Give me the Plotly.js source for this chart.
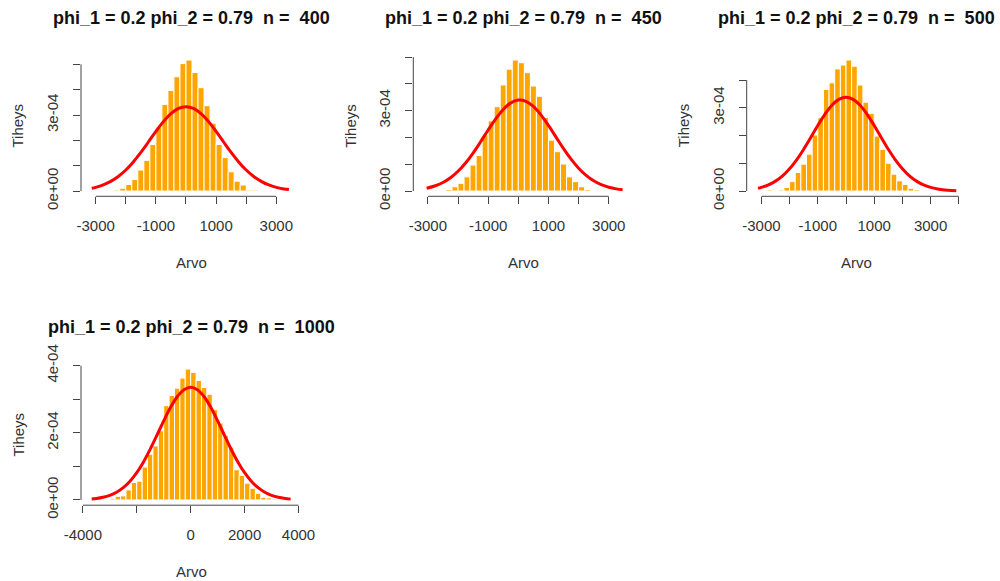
<!DOCTYPE html>
<html>
<head>
<meta charset="utf-8">
<script src="https://cdn.plot.ly/plotly-3.0.1.min.js"></script>
<style>
html,body{margin:0;padding:0;background:#fff;}
#chart{width:1000px;height:581px;}
</style>
</head>
<body>
<div id="chart"></div>
<script>
// ---------- data (densities in units of 1e-4) ----------
const DENS_UNIT = 1e-4;
const BIN_WIDTH = 200;

const titles = [
  "phi_1 = 0.2 phi_2 = 0.79  n =  400",
  "phi_1 = 0.2 phi_2 = 0.79  n =  450",
  "phi_1 = 0.2 phi_2 = 0.79  n =  500",
  "phi_1 = 0.2 phi_2 = 0.79  n =  1000"
];
const xAxisTitle = "Arvo";
const yAxisTitle = "Tiheys";

// panel 1 (n = 400)
const p1Bins = [-2400,-2200,-2000,-1800,-1600,-1400,-1200,-1000,-800,-600,-400,-200,0,200,400,600,800,1000,1200,1400,1600,1800,2000,2200];
const p1Dens = [0.04,0.11,0.26,0.46,0.83,1.21,1.84,2.53,3.42,3.97,4.51,5.03,5.17,4.68,4.08,3.37,2.68,1.84,1.32,0.76,0.39,0.24,0.04,0.04];
const p1CurveX = [-3130,-3000,-2750,-2500,-2250,-2000,-1750,-1500,-1250,-1000,-750,-500,-250,0,250,500,750,1000,1250,1500,1750,2000,2250,2500,2750,3000,3250,3420];
const p1CurveY = [0.111,0.146,0.241,0.380,0.574,0.830,1.150,1.525,1.936,2.354,2.739,3.054,3.258,3.33,3.258,3.054,2.739,2.354,1.936,1.525,1.150,0.830,0.574,0.380,0.241,0.146,0.085,0.057];

// panel 2 (n = 450)
const p2Bins = [-2400,-2200,-2000,-1800,-1600,-1400,-1200,-1000,-800,-600,-400,-200,0,200,400,600,800,1000,1200,1400,1600,1800,2000,2200];
const p2Dens = [0.06,0.16,0.29,0.53,0.97,1.33,2.09,2.62,3.15,3.96,4.55,4.89,4.79,4.42,3.92,3.54,2.75,1.90,1.47,1.01,0.53,0.35,0.16,0.06];
const p2CurveX = [-3040,-2750,-2500,-2250,-2000,-1750,-1500,-1250,-1000,-750,-500,-250,0,250,500,750,1000,1250,1500,1750,2000,2250,2500,2750,3000,3250,3460];
const p2CurveY = [0.106,0.197,0.320,0.497,0.738,1.047,1.420,1.840,2.278,2.694,3.046,3.290,3.397,3.351,3.159,2.845,2.449,2.015,1.583,1.190,0.854,0.586,0.383,0.240,0.144,0.082,0.050];

// panel 3 (n = 500)
const p3Bins = [-2800,-2600,-2400,-2200,-2000,-1800,-1600,-1400,-1200,-1000,-800,-600,-400,-200,0,200,400,600,800,1000,1200,1400,1600,1800,2000,2200,2400];
const p3Dens = [0.04,0,0.04,0.13,0.34,0.67,0.97,1.33,2.02,2.64,3.66,3.90,4.40,4.54,4.72,4.50,3.82,3.20,2.80,1.98,1.50,1.00,0.61,0.37,0.24,0.10,0.05];
const p3CurveX = [-3120,-3000,-2750,-2500,-2250,-2000,-1750,-1500,-1250,-1000,-750,-500,-250,0,250,500,750,1000,1250,1500,1750,2000,2250,2500,2750,3000,3250,3500,3750,3912];
const p3CurveY = [0.102,0.134,0.223,0.358,0.549,0.804,1.125,1.507,1.929,2.360,2.762,3.090,3.305,3.38,3.305,3.090,2.762,2.360,1.929,1.507,1.125,0.804,0.549,0.358,0.223,0.134,0.076,0.042,0.022,0.014];

// panel 4 (n = 1000)
const p4Bins = [-3000,-2800,-2600,-2400,-2200,-2000,-1800,-1600,-1400,-1200,-1000,-800,-600,-400,-200,0,200,400,600,800,1000,1200,1400,1600,1800,2000,2200,2400,2600,2800,3000];
const p4Dens = [0.04,0.11,0.12,0.30,0.52,0.56,0.98,1.36,1.61,2.06,2.81,3.11,3.33,3.63,3.90,3.80,3.56,3.35,3.15,2.69,2.29,1.92,1.57,0.90,0.73,0.50,0.35,0.20,0.08,0.06,0.03];
const p4CurveX = [-3672,-3500,-3250,-3000,-2750,-2500,-2250,-2000,-1750,-1500,-1250,-1000,-750,-500,-250,0,250,500,750,1000,1250,1500,1750,2000,2250,2500,2750,3000,3250,3500,3709];
const p4CurveY = [0.028,0.043,0.079,0.138,0.229,0.366,0.557,0.812,1.133,1.512,1.930,2.356,2.752,3.075,3.286,3.36,3.286,3.075,2.752,2.356,1.930,1.512,1.133,0.812,0.557,0.366,0.229,0.138,0.079,0.043,0.025];

// tick values / labels
const xTicksA = [-3000,-2000,-1000,0,1000,2000,3000];
const xLabelsA = ["-3000","","-1000","","1000","","3000"];
const xTicks3 = [-3000,-2000,-1000,0,1000,2000,3000,4000];
const xLabels3 = ["-3000","","-1000","","1000","","3000",""];
const xTicks4 = [-4000,-2000,0,2000,4000];
const xLabels4 = ["-4000","","0","2000","4000"];
const yTicks5 = [0,1,2,3,4,5];
const yLabels5 = ["0e+00","","","3e-04","",""];
const yTicks4a = [0,1,2,3,4];
const yLabels4a = ["0e+00","","","3e-04",""];
const yLabels4b = ["0e+00","","2e-04","","4e-04"];

// ---------- layout geometry (pixels in a 1000x581 canvas) ----------
const W = 1000, H = 581;
const FONT = "Liberation Sans, Arial, Helvetica, sans-serif";
const AXIS_COLOR = "#444";
const TEXT_COLOR = "#333";

const panels = [
  {bins:p1Bins, dens:p1Dens, cx:p1CurveX, cy:p1CurveY, xt:xTicksA, xl:xLabelsA, yt:yTicks5, yl:yLabels5,
   px:[81,301], py:[54.8,196.3], xr:[-3488,3821], title:titles[0]},
  {bins:p2Bins, dens:p2Dens, cx:p2CurveX, cy:p2CurveY, xt:xTicksA, xl:xLabelsA, yt:yTicks5, yl:yLabels5,
   px:[413.3,633.3], py:[54.8,196.3], xr:[-3483,3814], title:titles[1]},
  {bins:p3Bins, dens:p3Dens, cx:p3CurveX, cy:p3CurveY, xt:xTicks3, xl:xLabels3, yt:yTicks4a, yl:yLabels4a,
   px:[746.7,966.7], py:[54.8,196.3], xr:[-3521,4280], title:titles[2]},
  {bins:p4Bins, dens:p4Dens, cx:p4CurveX, cy:p4CurveY, xt:xTicks4, xl:xLabels4, yt:yTicks4a, yl:yLabels4b,
   px:[81,301], py:[363.8,505.2], xr:[-4068,4092], title:titles[3]}
];

const traces = [];
const layout = {
  width: W, height: H,
  margin: {l:0, r:0, t:0, b:0},
  paper_bgcolor: "#fff", plot_bgcolor: "rgba(0,0,0,0)",
  showlegend: false,
  font: {family: FONT, color: TEXT_COLOR, size: 15},
  shapes: [], annotations: []
};

panels.forEach((p, i) => {
  const n = i + 1;
  const xa = n === 1 ? "x" : "x" + n;
  const ya = n === 1 ? "y" : "y" + n;
  const xKey = n === 1 ? "xaxis" : "xaxis" + n;
  const yKey = n === 1 ? "yaxis" : "yaxis" + n;
  const M = Math.max(...p.dens) * DENS_UNIT;

  traces.push({
    type: "bar", xaxis: xa, yaxis: ya,
    x: p.bins, y: p.dens.map(v => v * DENS_UNIT),
    width: BIN_WIDTH, offset: 0,
    marker: {color: "#FFA500", line: {color: "#FFFFFF", width: 1}},
    hoverinfo: "skip"
  });
  traces.push({
    type: "scatter", mode: "lines", xaxis: xa, yaxis: ya,
    x: p.cx, y: p.cy.map(v => v * DENS_UNIT),
    line: {color: "#FF0000", width: 3, shape: "spline", smoothing: 1},
    hoverinfo: "skip"
  });

  layout[xKey] = {
    domain: [p.px[0] / W, p.px[1] / W],
    range: p.xr, anchor: ya,
    showgrid: false, zeroline: false, showline: false,
    tickmode: "array", tickvals: p.xt, ticktext: p.xl,
    ticks: "outside", ticklen: 7, tickwidth: 1, tickcolor: AXIS_COLOR,
    ticklabelstandoff: 9,
    tickfont: {family: FONT, size: 15, color: TEXT_COLOR},
    fixedrange: true
  };
  layout[yKey] = {
    domain: [1 - p.py[1] / H, 1 - p.py[0] / H],
    range: [-0.04 * M, 1.04 * M], anchor: xa,
    showgrid: false, zeroline: false, showline: false,
    tickmode: "array", tickvals: p.yt.map(v => v * DENS_UNIT), ticktext: p.yl,
    ticks: "outside", ticklen: 7, tickwidth: 1, tickcolor: AXIS_COLOR,
    tickangle: -90, ticklabelstandoff: 9,
    tickfont: {family: FONT, size: 15, color: TEXT_COLOR},
    fixedrange: true
  };

  // R-style axis lines spanning first..last tick
  layout.shapes.push({
    type: "line", xref: xa, yref: ya + " domain",
    x0: p.xt[0], x1: p.xt[p.xt.length - 1], y0: 0, y1: 0,
    line: {color: AXIS_COLOR, width: 1}
  });
  layout.shapes.push({
    type: "line", xref: xa + " domain", yref: ya,
    x0: 0, x1: 0, y0: p.yt[0] * DENS_UNIT, y1: p.yt[p.yt.length - 1] * DENS_UNIT,
    line: {color: AXIS_COLOR, width: 1}
  });

  const cx = (p.px[0] + p.px[1]) / 2;
  const cyMid = (p.py[0] + p.py[1]) / 2;
  // panel title
  layout.annotations.push({
    text: "<b>" + p.title + "</b>", xref: "paper", yref: "paper",
    x: cx / W, y: 1 - (p.py[0] - 37) / H, xanchor: "center", yanchor: "middle",
    showarrow: false, font: {family: FONT, size: 18, color: "#111"}
  });
  // x axis title
  layout.annotations.push({
    text: xAxisTitle, xref: "paper", yref: "paper",
    x: cx / W, y: 1 - (p.py[1] + 66) / H, xanchor: "center", yanchor: "middle",
    showarrow: false, font: {family: FONT, size: 15, color: TEXT_COLOR}
  });
  // y axis title
  layout.annotations.push({
    text: yAxisTitle, xref: "paper", yref: "paper", textangle: -90,
    x: (p.px[0] - 63) / W, y: 1 - cyMid / H, xanchor: "center", yanchor: "middle",
    showarrow: false, font: {family: FONT, size: 15, color: TEXT_COLOR}
  });
});

Plotly.newPlot("chart", traces, layout, {displayModeBar: false, staticPlot: true});
</script>
</body>
</html>
